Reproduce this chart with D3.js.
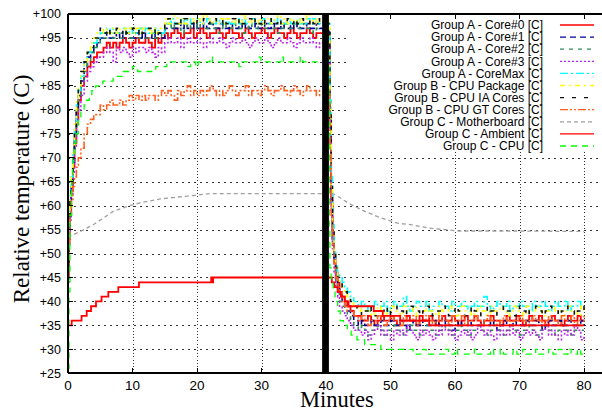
<!DOCTYPE html>
<html><head><meta charset="utf-8">
<script src="https://cdn.jsdelivr.net/npm/d3@7/dist/d3.min.js"></script>
<style>body{margin:0;background:#fff}svg{display:block}</style>
</head><body><svg id="chart" width="602" height="412"></svg>
<script>
// ---------- axis ticks ----------
const xTicks = [0, 10, 20, 30, 40, 50, 60, 70, 80];
const yTicks = [25, 30, 35, 40, 45, 50, 55, 60, 65, 70, 75, 80, 85, 90, 95, 100];
const yTickLabels = ["+25","+30","+35","+40","+45","+50","+55","+60","+65","+70","+75","+80","+85","+90","+95","+100"];

// ---------- legend names ----------
const seriesNames = [
  "Group A - Core#0 [C]", "Group A - Core#1 [C]", "Group A - Core#2 [C]", "Group A - Core#3 [C]",
  "Group A - CoreMax [C]", "Group B - CPU Package [C]", "Group B - CPU IA Cores [C]",
  "Group B - CPU GT Cores [C]", "Group C - Motherboard [C]", "Group C - Ambient [C]", "Group C - CPU [C]"
];

// ---------- sample times (minutes) for the noisy CPU sensors ----------
const riseMinutes = [0, 0.15, 0.3, 0.5, 0.75, 1.0, 1.3, 1.6, 2.0, 2.5, 3.0, 3.5, 4.0, 4.5];
const hotMinutes = d3.range(5, 39.5, 0.5);          // 5.0 .. 39.0 (69 samples)
const dropMinutes = [40.45, 40.6, 40.8, 41.0, 41.25, 41.5, 41.8, 42.1, 42.5, 42.9, 43.3, 43.8, 44.3, 44.8];
const coolMinutes = d3.range(45, 80.5, 0.5);        // 45.0 .. 80.0 (71 samples)
const gapMinutes = [39.4, 40.45];                   // black transition band

// ---------- Group A - Core#0 ----------
const core0Rise = [45,53,58,63,68,73,78,82,85,87,89,90,91,92];
const core0Hot = [92,93,94,93,94,93,94,95,94,93, 94,95,94,94,95,94,93,95,94,95,
  96,95,96,97,96,95,96,96,97,95, 96,97,96,95,96,96,97,96,95,96, 97,96,96,95,96,97,96,95,96,96,
  97,96,95,96,97,96,96,95,96,97, 96,95,96,96,97,96,95,96,96];
const core0Drop = [95,78,62,54,49,46,44,42,41,40,39,38,37,37];
const core0Cool = [37,36,36,37,36,35,36,37,36,36, 37,36,35,36,36,37,36,36,35,37, 36,36,37,36,35,36,37,36,36,37,
  36,35,36,37,36,36,37,36,35,36, 36,37,36,36,35,36,37,36,36,37, 36,35,36,37,36,36,37,36,35,36,
  37,36,36,35,36,37,36,36,37,36, 36];

// ---------- Group A - Core#1 ----------
const core1Rise = [47,55,60,64,69,75,80,83,86,89,91,92,93,94];
const core1Hot = [95,96,95,95,96,95,96,95,96,95, 95,96,95,96,95,95,96,95,96,95,
  97,98,97,97,98,97,98,97,97,98, 97,97,98,97,98,97,97,98,97,97, 98,97,97,98,97,98,97,97,98,97,
  97,98,97,98,97,97,98,97,97,98, 97,98,97,97,98,97,97,98,97];
const core1Drop = [96,78,61,53,48,45,43,41,40,39,38,37,36,36];
const core1Cool = [35,36,35,35,36,35,35,36,35,35, 36,35,35,36,35,34,35,36,35,35, 36,35,35,35,36,35,35,36,35,34,
  35,36,35,35,36,35,35,35,36,35, 35,36,35,34,35,36,35,35,36,35, 35,35,36,35,35,36,35,34,35,36,
  35,35,36,35,35,36,35,35,35,36, 35];

// ---------- Group A - Core#2 ----------
const core2Rise = [46,54,60,64,69,74,79,83,86,88,90,92,93,94];
const core2Hot = [95,95,96,95,95,96,95,95,96,95, 96,95,95,96,95,95,96,95,95,96,
  97,97,98,97,97,96,97,98,97,97, 98,97,97,97,98,97,96,97,98,97, 97,98,97,97,96,97,98,97,97,98,
  97,97,98,97,97,96,97,98,97,97, 98,97,97,98,97,97,96,97,97];
const core2Drop = [96,77,60,52,47,44,42,40,39,38,37,36,35,35];
const core2Cool = [34,35,34,33,34,34,35,34,33,34, 34,35,34,34,33,34,35,34,34,33, 34,35,34,34,33,34,34,35,34,33,
  34,34,35,34,33,34,34,35,34,34, 33,34,35,34,34,33,34,35,34,34, 33,34,34,35,34,33,34,34,35,34,
  34,33,34,35,34,34,33,34,35,34, 34];

// ---------- Group A - Core#3 ----------
const core3Rise = [44,52,57,62,67,72,77,80,83,86,88,89,90,91];
const core3Hot = [91,92,93,92,90,93,92,93,92,91, 93,92,93,93,92,93,92,91,93,92,
  94,95,94,94,95,93,94,95,94,94, 95,94,93,94,95,94,94,95,94,93, 94,95,94,94,95,94,93,94,95,94,
  94,95,94,93,94,95,94,94,95,94, 93,94,95,94,94,95,94,93,94];
const core3Drop = [94,76,59,51,46,43,41,39,38,37,36,35,34,34];
const core3Cool = [34,33,34,32,33,34,35,33,34,33, 32,34,33,34,33,35,34,33,32,34, 33,34,33,32,34,33,35,34,33,34,
  32,33,34,33,34,32,33,35,34,33, 34,33,32,34,33,34,33,35,33,34, 32,33,34,33,34,33,32,34,35,33,
  34,33,32,34,33,34,33,35,34,32, 33];

// ---------- Group A - CoreMax ----------
const coreMaxRise = [49,57,62,66,71,76,81,84,87,90,92,93,94,95];
const coreMaxHot = [96,96,97,96,97,96,96,97,96,97, 96,96,97,96,97,96,96,97,96,96,
  98,98,99,98,98,99,98,99,98,98, 99,98,98,99,98,98,99,98,98,99, 98,98,99,98,99,98,98,99,98,98,
  99,98,98,99,98,99,98,98,99,98, 98,99,98,98,99,98,99,98,98];
const coreMaxDrop = [98,82,66,56,51,48,46,45,44,43,42,41,40,40];
const coreMaxCool = [39,40,39,38,39,40,39,39,40,38, 39,40,39,39,41,39,38,39,40,39, 39,40,38,39,39,40,39,39,38,40,
  39,39,40,39,38,39,40,39,39,41, 39,38,39,40,39,39,40,38,39,39, 40,39,39,38,40,39,39,40,39,38,
  39,40,39,39,40,38,39,39,40,39, 39];

// ---------- Group B - CPU Package ----------
const packageRise = [50,58,62,66,71,77,82,85,88,90,92,94,95,96];
const packageHot = [96,97,96,96,97,96,97,97,96,97, 96,97,96,97,97,96,97,96,97,97,
  99,98,99,100,98,99,98,99,99,98, 99,98,100,99,98,99,98,99,98,99, 99,98,99,98,100,99,98,99,98,99,
  98,99,99,98,99,100,98,99,98,99, 98,99,98,99,100,98,99,98,99];
const packageDrop = [97,80,64,55,50,47,45,44,43,42,41,40,39,39];
const packageCool = [38,39,38,38,37,38,39,38,37,38, 39,38,38,37,39,38,38,39,37,38, 38,39,38,38,37,39,38,38,39,38,
  37,38,39,38,38,37,38,39,38,38, 37,39,38,38,39,38,37,38,39,38, 38,37,39,38,38,39,38,37,38,38,
  39,38,38,37,38,39,38,38,37,39, 38];

// ---------- Group B - CPU IA Cores ----------
const iaRise = [48,57,61,65,70,76,81,85,88,90,92,93,95,95];
const iaHot = [97,96,97,96,96,97,96,97,96,96, 97,96,97,96,96,97,96,97,96,96,
  98,99,98,98,99,98,99,98,98,99, 98,98,99,98,99,99,98,98,99,98, 98,99,98,99,98,98,99,98,99,98,
  99,98,98,99,98,99,98,98,99,98, 99,98,99,98,98,99,98,99,98];
const iaDrop = [97,80,64,55,50,47,45,44,43,42,41,40,39,38];
const iaCool = [38,37,38,39,38,37,38,38,39,37, 38,38,39,38,37,38,39,38,38,37, 38,39,38,37,38,38,39,38,37,38,
  39,38,38,37,38,39,38,37,38,38, 39,38,37,38,38,39,38,38,37,38, 39,38,37,38,38,39,38,37,38,39,
  38,38,37,38,39,38,38,37,38,39, 38];

// ---------- Group B - CPU GT Cores ----------
const gtRise = [45,52,58,61,64,66,68,70,72,75,77,78,79,79];
const gtHot = [81,80,81,82,81,81,82,81,82,83, 82,83,82,83,82,83,83,82,83,84,
  83,84,83,82,84,83,84,85,83,84, 83,84,83,84,85,84,83,84,83,84, 85,84,83,84,84,85,83,84,84,83,
  84,85,84,83,84,84,85,84,83,84, 85,84,83,84,85,84,84,83,84];
const gtDrop = [84,72,58,52,48,45,43,42,40,39,38,38,37,37];
const gtCool = [36,37,36,35,36,36,37,36,35,36, 37,36,36,35,37,36,36,37,35,36, 36,37,36,35,36,37,36,36,35,37,
  36,36,37,35,36,36,37,36,35,36, 37,36,36,35,36,37,36,35,36,36, 37,36,35,36,37,36,36,35,36,37,
  36,36,35,37,36,36,37,35,36,36, 37];

// ---------- Group C - Motherboard ----------
const mbMinutes = [0, 0.3, 1.9, 3.9, 5.5, 7.0, 9.1, 11.2, 14.3, 17.0, 19.4, 22.0, 30.0, 40.0, 40.9,
  42.0, 43.5, 46.0, 48.6, 51.2, 53.3, 56.0, 60.6, 70.0, 80.0];
const mbValues = [53.3, 53.6, 54.6, 56.0, 57.4, 58.8, 59.8, 60.6, 61.4, 61.8, 62.1, 62.5, 62.5, 62.5, 62.6,
  61.8, 60.5, 58.8, 57.4, 56.3, 56.0, 55.3, 54.7, 54.7, 54.6];

// ---------- Group C - Ambient ----------
const ambientMinutes = [0, 0.57, 2.1, 2.9, 3.57, 4.34, 5.2, 6.25, 7.8, 11.0, 22.2, 22.35, 22.5,
  40.9, 41.3, 41.8, 42.3, 42.9, 43.5, 47.4, 48.8, 51.5, 56.0, 80.0];
const ambientValues = [35, 36, 37, 38, 39, 40, 41, 42, 43, 44, 45, 44, 45,
  44, 43, 42, 41, 40, 39, 38, 37, 36, 35, 35];

// ---------- Group C - CPU ----------
const cpuMinutes = [0, 0.15, 0.3, 0.57, 0.7, 0.95, 1.24, 1.6, 2.0, 2.5, 2.9, 3.3, 3.7, 4.3, 5.4, 7.0, 8.6, 10.0, 10.8,
  13.6, 15.3, 18.6, 19.0, 19.8, 20.2, 22.0, 22.4, 26.5, 27.0, 29.6, 29.9, 33.0, 33.4, 36.0, 36.4, 39.4,
  40.45, 40.5, 40.6, 40.8, 41.1, 41.4, 41.8, 42.2, 42.7, 43.3, 43.9, 44.8, 46.0, 48.5, 53.5, 55.0, 55.5,
  58.5, 59.0, 60.0, 60.4, 63.0, 63.4, 65.5, 66.0, 67.0, 67.5, 69.0, 69.6, 70.5, 71.0, 72.5, 73.0, 74.5,
  75.2, 76.0, 76.6, 77.5, 78.0, 79.0, 79.5, 80.0];
const cpuValues = [26, 42, 58, 65, 70, 73, 75, 78, 80, 81, 82, 83, 84, 85, 86, 87, 88, 89, 88,
  89, 90, 89, 90, 89, 90, 91, 90, 89, 90, 91, 90, 91, 90, 91, 90, 90,
  80, 55, 47, 44, 42, 40, 38, 36, 35, 34, 33, 32, 31, 30, 29, 30, 29,
  30, 29, 30, 29, 30, 29, 30, 29, 30, 29, 30, 29, 30, 29, 30, 29, 30,
  29, 30, 29, 30, 29, 30, 29, 29];

// ---------- styles ----------
const seriesColors = ["#ff0000", "#000096", "#2e8b57", "#bb22ee", "#00ffff", "#ffff00", "#111111",
  "#ff6020", "#a0a0a0", "#ff0000", "#00ff00"];
const seriesDashes = [null, "6,4", "4,5", "2,2", "8,3,2,3", "5,4,2,4", "4,8", "8,2,2,2,2,2", "4,3", null, "6,5"];

// ---------- build ----------
const clusterMinutes = [...riseMinutes, ...hotMinutes, ...dropMinutes, ...coolMinutes];
const clusterValues = [
  [...core0Rise, ...core0Hot, ...core0Drop, ...core0Cool],
  [...core1Rise, ...core1Hot, ...core1Drop, ...core1Cool],
  [...core2Rise, ...core2Hot, ...core2Drop, ...core2Cool],
  [...core3Rise, ...core3Hot, ...core3Drop, ...core3Cool],
  [...coreMaxRise, ...coreMaxHot, ...coreMaxDrop, ...coreMaxCool],
  [...packageRise, ...packageHot, ...packageDrop, ...packageCool],
  [...iaRise, ...iaHot, ...iaDrop, ...iaCool],
  [...gtRise, ...gtHot, ...gtDrop, ...gtCool]
];
const zipPts = (ts, vs) => ts.slice(0, Math.min(ts.length, vs.length)).map((t, i) => [t, vs[i]]);
const series = seriesNames.map((name, i) => {
  let pts, curve = d3.curveStepAfter;
  if (i < 8) pts = zipPts(clusterMinutes, clusterValues[i]);
  else if (i === 8) { pts = zipPts(mbMinutes, mbValues); curve = d3.curveLinear; }
  else if (i === 9) pts = zipPts(ambientMinutes, ambientValues);
  else pts = zipPts(cpuMinutes, cpuValues);
  return { name, pts, curve, color: seriesColors[i], dash: seriesDashes[i], noisy: i < 8 };
});

const svg = d3.select("#chart");
const pL = 68, pT = 14, pB = 373.3, pR = 612;
const x = d3.scaleLinear().domain([0, 80]).range([68, 584]);
const y = d3.scaleLinear().domain([25, 100]).range([pB, pT]);

svg.append("rect").attr("width", 602).attr("height", 412).attr("fill", "#fff");
svg.append("clipPath").attr("id", "clip").append("rect")
  .attr("x", pL).attr("y", pT).attr("width", pR - pL).attr("height", pB - pT);

// grid
const grid = svg.append("g").attr("shape-rendering", "crispEdges");
grid.selectAll(".hg").data(yTicks.filter(v => v > 25 && v < 100)).join("line")
  .attr("x1", pL).attr("x2", pR).attr("y1", d => Math.round(y(d)) + 0.5).attr("y2", d => Math.round(y(d)) + 0.5)
  .attr("stroke", "#333").attr("stroke-width", 1).attr("stroke-dasharray", "1.5,4.5");
grid.selectAll(".vg").data(xTicks.filter(v => v > 0)).join("line")
  .attr("y1", pT).attr("y2", pB).attr("x1", d => Math.round(x(d)) + 0.5).attr("x2", d => Math.round(x(d)) + 0.5)
  .attr("stroke", "#333").attr("stroke-width", 1).attr("stroke-dasharray", "1,2.2");

// data lines
const plot = svg.append("g").attr("clip-path", "url(#clip)");
series.forEach(s => {
  const line = d3.line().x(d => x(d[0])).y(d => y(d[1])).curve(s.curve);
  plot.append("path").datum(s.pts).attr("d", line)
    .attr("fill", "none").attr("stroke", s.color)
    .attr("stroke-width", s.color === "#ff0000" ? 1.8 : (s.noisy ? 1.6 : 1.3))
    .attr("stroke-dasharray", s.dash);
});
// transition band at 40 min
plot.append("rect").attr("x", x(gapMinutes[0])).attr("width", x(gapMinutes[1]) - x(gapMinutes[0]))
  .attr("y", pT).attr("height", pB - pT).attr("fill", "#000");

// legend box
const legendRowY = i => 25 + i * 12.1;
svg.append("rect").attr("x", 349).attr("y", pT).attr("width", 260).attr("height", 137).attr("fill", "#fff");
const lg = svg.append("g").attr("font-family", "'Liberation Sans', Arial, sans-serif").attr("font-size", 12);
series.forEach((s, i) => {
  lg.append("text").attr("x", 543).attr("y", legendRowY(i)).attr("dy", "0.35em")
    .attr("text-anchor", "end").attr("fill", "#000").text(s.name);
  lg.append("line").attr("x1", 560).attr("x2", 594).attr("y1", legendRowY(i)).attr("y2", legendRowY(i))
    .attr("stroke", s.color).attr("stroke-width", 1.3).attr("stroke-dasharray", s.dash);
});

// frame
const frame = svg.append("g").attr("stroke", "#000").attr("shape-rendering", "crispEdges");
frame.append("line").attr("x1", pL).attr("x2", pL).attr("y1", pT).attr("y2", pB).attr("stroke-width", 1.6);
frame.append("line").attr("x1", pL).attr("x2", pR).attr("y1", pT).attr("y2", pT).attr("stroke-width", 1.6);
frame.append("line").attr("x1", pL).attr("x2", pR).attr("y1", pB).attr("y2", pB).attr("stroke-width", 1.8);
yTicks.forEach(v => frame.append("line").attr("x1", pL).attr("x2", pL + 5).attr("y1", y(v)).attr("y2", y(v)));
xTicks.forEach(v => {
  frame.append("line").attr("x1", x(v)).attr("x2", x(v)).attr("y1", pB).attr("y2", pB - 5);
  frame.append("line").attr("x1", x(v)).attr("x2", x(v)).attr("y1", pT).attr("y2", pT + 5);
});

// tick labels
const tl = svg.append("g").attr("font-family", "'Liberation Sans', Arial, sans-serif").attr("fill", "#000");
yTicks.forEach((v, i) => tl.append("text").attr("x", 61).attr("y", y(v)).attr("dy", "0.35em")
  .attr("font-size", 12.5).attr("text-anchor", "end").text(yTickLabels[i]));
xTicks.forEach(v => tl.append("text").attr("x", x(v)).attr("y", 389.5)
  .attr("font-size", 13.5).attr("text-anchor", "middle").text(v));

// axis titles
svg.append("text").attr("transform", "translate(29,189) rotate(-90)").attr("text-anchor", "middle")
  .attr("font-family", "'Liberation Serif', 'Times New Roman', serif").attr("font-size", 23).text("Relative temperature (C)");
svg.append("text").attr("x", 337).attr("y", 407).attr("text-anchor", "middle")
  .attr("font-family", "'Liberation Serif', 'Times New Roman', serif").attr("font-size", 22.5).text("Minutes");
</script></body></html>
